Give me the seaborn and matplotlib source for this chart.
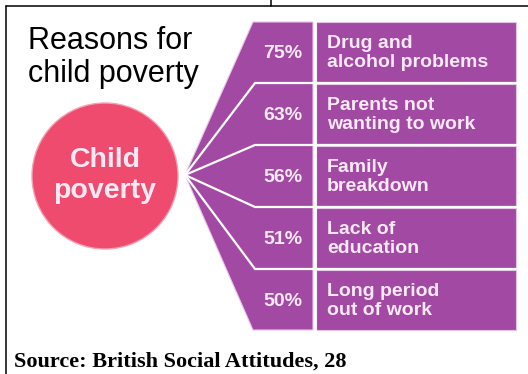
import matplotlib
matplotlib.use('Agg')
import matplotlib.pyplot as plt
from matplotlib.patches import Polygon, Rectangle, Circle
import seaborn as sns

sns.set_theme(style='white')
plt.rcParams['font.family'] = ['Liberation Sans', 'DejaVu Sans']

# Data
reasons = ['Drug and\nalcohol problems', 'Parents not\nwanting to work', 'Family\nbreakdown',
           'Lack of\neducation', 'Long period\nout of work']
shares = [75, 63, 56, 51, 50]
title_lines = ['Reasons for', 'child poverty']
centre_label = 'Child\npoverty'
source = 'Source: British Social Attitudes, 28'

# Colours
purple = '#A24AA3'
pink = '#EE4B6E'
text_light = '#FBEAF6'

# Layout (pixel space)
W, H = 528, 374
apex = (185, 175)
top, pitch, row_h = 22, 62, 60
x_fan, x_pct_r, x_lab_l, x_lab_r = 253, 313, 316, 516

fig = plt.figure(figsize=(W / 100, H / 100), dpi=100)
ax = fig.add_axes([0, 0, 1, 1])
ax.set_xlim(0, W)
ax.set_ylim(H, 0)
ax.axis('off')

n = len(reasons)
bottom = top + (n - 1) * pitch + row_h

# Fan + percentage column
ax.add_patch(Polygon([apex, (x_fan, top), (x_pct_r, top), (x_pct_r, bottom), (x_fan, bottom)],
                     closed=True, facecolor=purple, edgecolor='#E9C3E6', lw=0.8, zorder=2))

for i, (reason, share) in enumerate(zip(reasons, shares)):
    y0 = top + i * pitch
    yc = y0 + row_h / 2
    ax.add_patch(Rectangle((x_lab_l, y0), x_lab_r - x_lab_l, row_h, facecolor=purple,
                           edgecolor='#E9C3E6', lw=0.8, zorder=2))
    ax.text((x_fan + x_pct_r) / 2, yc + 1, f'{share}%', color=text_light, fontsize=14,
            fontweight='bold', ha='center', va='center', zorder=4)
    ax.text(x_lab_l + 11, yc + 1, reason, color=text_light, fontsize=14, fontweight='bold',
            ha='left', va='center', linespacing=1.2, zorder=4)
    if i > 0:
        ys = y0 - (pitch - row_h) / 2
        ax.plot([apex[0], x_fan + 2, x_lab_r], [apex[1], ys, ys], color='white', lw=1.6,
                solid_joinstyle='miter', zorder=3)

# White gap between columns
ax.plot([(x_pct_r + x_lab_l) / 2] * 2, [top - 1, bottom + 1], color='white', lw=1.8, zorder=3)

# Centre circle
ax.add_patch(Circle((105, 176), 73, facecolor=pink, edgecolor='#F3A0B3', lw=1.0, zorder=2))
ax.text(105, 167, centre_label.split('\n')[0], color=text_light, fontsize=20.5, fontweight='bold',
        ha='center', va='baseline', zorder=4)
ax.text(105, 198, centre_label.split('\n')[1], color=text_light, fontsize=20.5, fontweight='bold',
        ha='center', va='baseline', zorder=4)

# Title
ax.text(28, 49, title_lines[0], color='black', fontsize=22, ha='left', va='baseline')
ax.text(28, 82, title_lines[1], color='black', fontsize=22, ha='left', va='baseline')

# Source
ax.text(14, 367, source, color='black', fontsize=16, fontweight='bold',
        family=['Liberation Serif', 'DejaVu Serif'], ha='left', va='baseline')

# Frame
ax.plot([6, W], [6, 6], color='black', lw=1.1)
ax.plot([6, 6], [6, H], color='black', lw=1.1)
ax.plot([271, 271], [0, 6], color='black', lw=1.1)

plt.savefig('out.png', dpi=100)
